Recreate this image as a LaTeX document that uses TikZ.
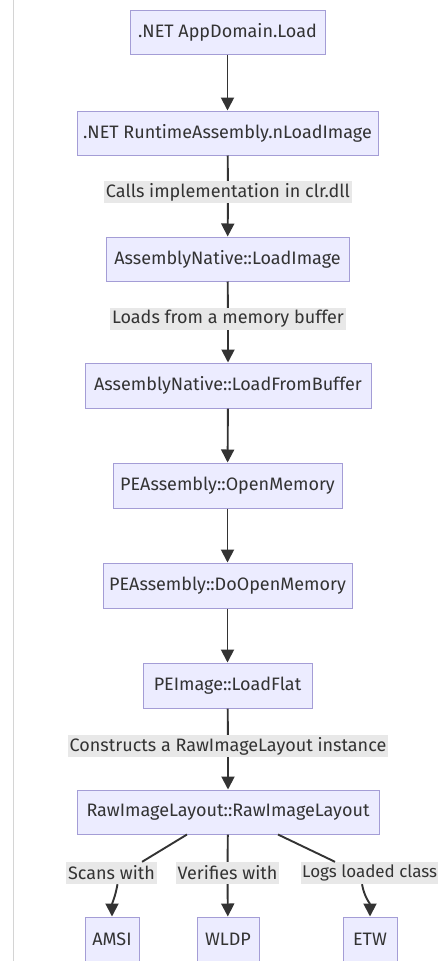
\documentclass[tikz,border=0pt]{standalone}
\usepackage{fontspec}
\setmainfont{Fira Sans}
\usetikzlibrary{arrows.meta}
\definecolor{boxfill}{HTML}{ECECFF}
\definecolor{boxdraw}{HTML}{A49DD6}
\definecolor{ink}{HTML}{333333}
\definecolor{lblbg}{HTML}{E8E8E8}
\definecolor{rulegray}{HTML}{D4D4D4}
\begin{document}
\begin{tikzpicture}[x=1pt,y=-1pt,
  box/.style={draw=boxdraw, fill=boxfill, line width=1pt, text=ink,
    font=\fontsize{18}{21}\selectfont, inner sep=0pt, minimum height=44pt},
  lbl/.style={fill=lblbg, text=ink, font=\fontsize{18}{21}\selectfont,
    inner xsep=2pt, inner ysep=0pt, minimum height=22pt},
  conn/.style={draw=ink, line width=1.9pt, -{Triangle[length=13pt,width=13pt]}},
  plainline/.style={draw=ink, line width=1.9pt}]
\useasboundingbox (0,0) rectangle (438,961);
\fill[white] (0,0) rectangle (438,961);
\draw[rulegray, line width=1.5pt] (13.5,0) -- (13.5,961);

\node[box, minimum width=195pt] (n1) at (227.5,32) {.NET AppDomain.Load};
\node[box, minimum width=301pt] (n2) at (227.5,133) {.NET RuntimeAssembly.nLoadImage};
\node[box, minimum width=243pt] (n3) at (227.5,259) {AssemblyNative::LoadImage};
\node[box, minimum width=286pt, minimum height=45pt] (n4) at (228,385.5) {AssemblyNative::LoadFromBuffer};
\node[box, minimum width=229pt, minimum height=45pt] (n5) at (227.5,485.5) {PEAssembly::OpenMemory};
\node[box, minimum width=249pt, minimum height=45pt] (n6) at (227.5,585.5) {PEAssembly::DoOpenMemory};
\node[box, minimum width=169pt, minimum height=45pt] (n7) at (227.5,685.5) {PEImage::LoadFlat};
\node[box, minimum width=302pt] (n8) at (228,812) {RawImageLayout::RawImageLayout};
\node[box, minimum width=54pt] (amsi) at (112,939) {AMSI};
\node[box, minimum width=62pt] (wldp) at (228,939) {WLDP};
\node[box, minimum width=54pt] (etw) at (370,939) {ETW};

\node[lbl] (l1) at (228,192) {Calls implementation in clr.dll};
\node[lbl] (l2) at (228,319) {Loads from a memory buffer};
\node[lbl] (l3) at (228,746) {Constructs a RawImageLayout instance};
\node[lbl] (s1) at (111.5,873) {Scans with};
\node[lbl] (s2) at (227.5,873) {Verifies with};
\node[lbl, anchor=west, font=\fontsize{17}{20}\selectfont, inner xsep=1pt] (s3) at (301,873) {Logs loaded class};

\draw[conn] (n1) -- (n2);
\draw[plainline] (n2) -- (l1);
\draw[conn] (l1) -- (n3);
\draw[plainline] (n3) -- (l2);
\draw[conn] (l2) -- (n4);
\draw[conn] (n4) -- (n5);
\draw[conn] (n5) -- (n6);
\draw[conn] (n6) -- (n7);
\draw[plainline] (n7) -- (l3);
\draw[conn] (l3) -- (n8);

\draw[plainline] ([xshift=-41pt]n8.south) -- ([xshift=-15pt]s1.north east);
\draw[conn] ([xshift=6pt]s1.south) to[out=-100,in=90] (amsi.north);
\draw[plainline] (n8) -- (s2);
\draw[conn] (s2) -- (wldp);
\draw[plainline] ([xshift=50pt]n8.south) -- ([xshift=34pt]s3.north west);
\draw[conn] ([xshift=61pt]s3.south west) to[out=-80,in=90] (etw.north);
\end{tikzpicture}
\end{document}
